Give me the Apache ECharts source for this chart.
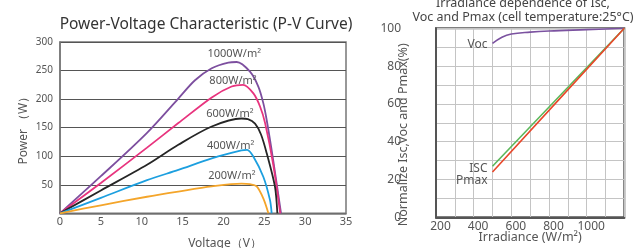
<!DOCTYPE html>
<html>
<head>
<meta charset="utf-8">
<script src="https://cdn.jsdelivr.net/npm/echarts@6/dist/echarts.min.js"></script>
<style>
  html, body { margin: 0; padding: 0; background: #fff; }
  #chart { width: 642px; height: 248px; }
</style>
</head>
<body>
<div id="chart"></div>
<script>
// P-V curves, one pair of arrays per irradiance (voltage V, power W)
const v1000 = [0, 5, 10.65, 14.48, 16.52, 18.57, 20.6, 21.63, 23.25, 24.27, 24.88, 25.3, 26.07, 27.05];
const p1000 = [0, 65, 141, 201, 233, 254, 264, 265, 248, 222, 193, 163, 95, 0];
const v800 = [0, 5, 10.65, 14.48, 18.57, 21.0, 22.4, 23.67, 24.48, 25.1, 26.1, 26.95];
const p800 = [0, 53, 115, 158, 203, 222, 225, 210, 187, 158, 85, 0];
const v600 = [0, 5, 10.65, 14.48, 18.57, 22.2, 23.0, 23.87, 24.6, 25.3, 26.3, 26.6];
const p600 = [0, 40, 85, 120, 152, 166, 165, 157, 138, 105, 47, 0];
const v400 = [0, 5, 10.65, 14.48, 18.57, 22.2, 22.9, 23.67, 24.88, 25.7, 25.9];
const p400 = [0, 27, 58, 76, 96, 110, 111, 99, 64, 23, 0];
const v200 = [0, 5, 10.65, 14.48, 18.57, 22.2, 23.25, 24.07, 24.88, 25.5];
const p200 = [0, 14, 29, 38, 47, 52, 51, 47, 26, 0];

// irradiance dependence (W/m2 -> %)
const irrVoc = [500, 550, 600, 700, 800, 1000, 1200];
const vocPct = [92, 95.3, 97, 98, 98.6, 99.3, 100];
const irrLin = [500, 850, 1200];
const iscPct = [27, 63.5, 100];
const pmaxPct = [24, 62, 100];

const font = 'Noto Sans';
const txt = '#555';

function pairs(xs, ys) {
  return xs.map((x, i) => [x, ys[i]]);
}

// put a text label on one point of a series
function labelAt(data, idx, text, pos, size) {
  data[idx] = {
    value: data[idx],
    label: {
      show: true, position: pos, formatter: text,
      color: txt, fontSize: size, fontFamily: font
    }
  };
  return data;
}

function pvSeries(xs, ys, color, peak, text, shift) {
  return {
    type: 'line', xAxisIndex: 0, yAxisIndex: 0,
    data: labelAt(pairs(xs, ys), peak, text, 'top', 11),
    showSymbol: true, symbol: 'circle', symbolSize: 0, showAllSymbol: true,
    smooth: 0.3,
    lineStyle: { color: color, width: 1.8 },
    itemStyle: { color: color },
    labelLayout: { hideOverlap: false, dx: shift[0], dy: shift[1] },
    z: 3
  };
}

function rightSeries(xs, ys, color, text, shift, smooth) {
  return {
    type: 'line', xAxisIndex: 1, yAxisIndex: 1, smooth: smooth,
    data: labelAt(pairs(xs, ys), 0, text, 'left', 12),
    showSymbol: true, symbol: 'circle', symbolSize: 0, showAllSymbol: true,
    lineStyle: { color: color, width: 1.6 },
    itemStyle: { color: color },
    labelLayout: { hideOverlap: false, dx: shift[0], dy: shift[1] }
  };
}

const chart = echarts.init(document.getElementById('chart'), null, { renderer: 'canvas' });

const option = {
  animation: false,
  textStyle: { fontFamily: font },
  title: [
    {
      text: 'Power-Voltage Characteristic (P-V Curve)',
      left: 201, top: 12, textAlign: 'center',
      textStyle: { fontSize: 15.5, fontWeight: 'normal', color: '#333', fontFamily: font }
    },
    {
      text: 'Irradiance dependence of Isc,\nVoc and Pmax (cell temperature:25\u00b0C)',
      left: 518, top: -9, textAlign: 'center',
      textStyle: { fontSize: 12.5, fontWeight: 'normal', color: '#444', fontFamily: font, lineHeight: 14 }
    }
  ],
  grid: [
    { left: 60, top: 42, width: 286, height: 171.3, show: true, borderColor: '#777', borderWidth: 1.5,
      containLabel: false, outerBoundsMode: 'none' },
    { left: 436, top: 28.3, width: 188.3, height: 189, show: true, borderColor: '#555', borderWidth: 2,
      containLabel: false, outerBoundsMode: 'none' }
  ],
  xAxis: [
    {
      type: 'value', gridIndex: 0, min: 0, max: 35, interval: 5,
      name: 'Voltage\uff08V\uff09', nameLocation: 'middle', nameGap: 24,
      nameTextStyle: { color: txt, fontSize: 12, fontFamily: font, padding: [0, 0, 0, 44] },
      axisLine: { show: true, lineStyle: { color: '#777', width: 1.5 } },
      axisTick: { show: false },
      axisLabel: { color: txt, fontSize: 11, margin: 3, fontFamily: font },
      splitLine: { show: false }
    },
    {
      type: 'value', gridIndex: 1, min: 200, max: 1200, interval: 100,
      name: 'Irradiance (W/m\u00b2)', nameLocation: 'middle', nameGap: 14, nameMoveOverlap: false,
      nameTextStyle: { color: txt, fontSize: 12.5, fontFamily: font },
      axisLine: { show: true, lineStyle: { color: '#555', width: 2 } },
      axisTick: { show: false },
      axisLabel: {
        color: txt, fontSize: 12, margin: 3, fontFamily: font, padding: [0, 0, 0, 9],
        formatter: v => (v % 200 === 0 && v < 1200) ? String(v) : ''
      },
      splitLine: { show: true, lineStyle: { color: '#c4c4c4', width: 1 } }
    }
  ],
  yAxis: [
    {
      type: 'value', gridIndex: 0, min: 0, max: 300, interval: 50,
      name: 'Power \uff08W\uff09', nameLocation: 'middle', nameGap: 30, nameMoveOverlap: false,
      nameTextStyle: { color: txt, fontSize: 12, fontFamily: font },
      axisLine: { show: true, lineStyle: { color: '#777', width: 1.5 } },
      axisTick: { show: false },
      axisLabel: { color: txt, fontSize: 10, margin: 7, fontFamily: font, showMinLabel: false },
      splitLine: { show: true, lineStyle: { color: '#555', width: 1.2 } }
    },
    {
      type: 'value', gridIndex: 1, min: 0, max: 100, interval: 10,
      name: 'Normalize Isc,Voc and Pmax(%)', nameLocation: 'middle', nameGap: 26, nameMoveOverlap: false,
      nameTextStyle: { color: txt, fontSize: 12.5, fontFamily: font, padding: [0, 24, 0, 0] },
      axisLine: { show: true, lineStyle: { color: '#555', width: 2 } },
      axisTick: { show: false },
      axisLabel: {
        color: txt, fontSize: 12, margin: 35, fontFamily: font, hideOverlap: false,
        formatter: v => (v % 20 === 0) ? String(v) : ''
      },
      splitLine: { show: true, lineStyle: { color: '#c4c4c4', width: 1 } }
    }
  ],
  series: [
    pvSeries(v1000, p1000, '#7d4f9f', 7, '1000W/m\u00b2', [-2.5, 2]),
    pvSeries(v800, p800, '#e8347e', 6, '800W/m\u00b2', [-10, 7]),
    pvSeries(v600, p600, '#262626', 5, '600W/m\u00b2', [-11.5, 6]),
    pvSeries(v400, p400, '#1c9fdf', 6, '400W/m\u00b2', [-16.5, 6]),
    pvSeries(v200, p200, '#f4a52a', 5, '200W/m\u00b2', [-9.5, 3]),
    rightSeries(irrVoc, vocPct, '#7b52a0', 'Voc', [0, 1], 0.4),
    rightSeries(irrLin, iscPct, '#5cb85c', 'ISC', [0, 2], false),
    rightSeries(irrLin, pmaxPct, '#e8482a', 'Pmax', [0, 9], false)
  ]
};

chart.setOption(option);
</script>
</body>
</html>
